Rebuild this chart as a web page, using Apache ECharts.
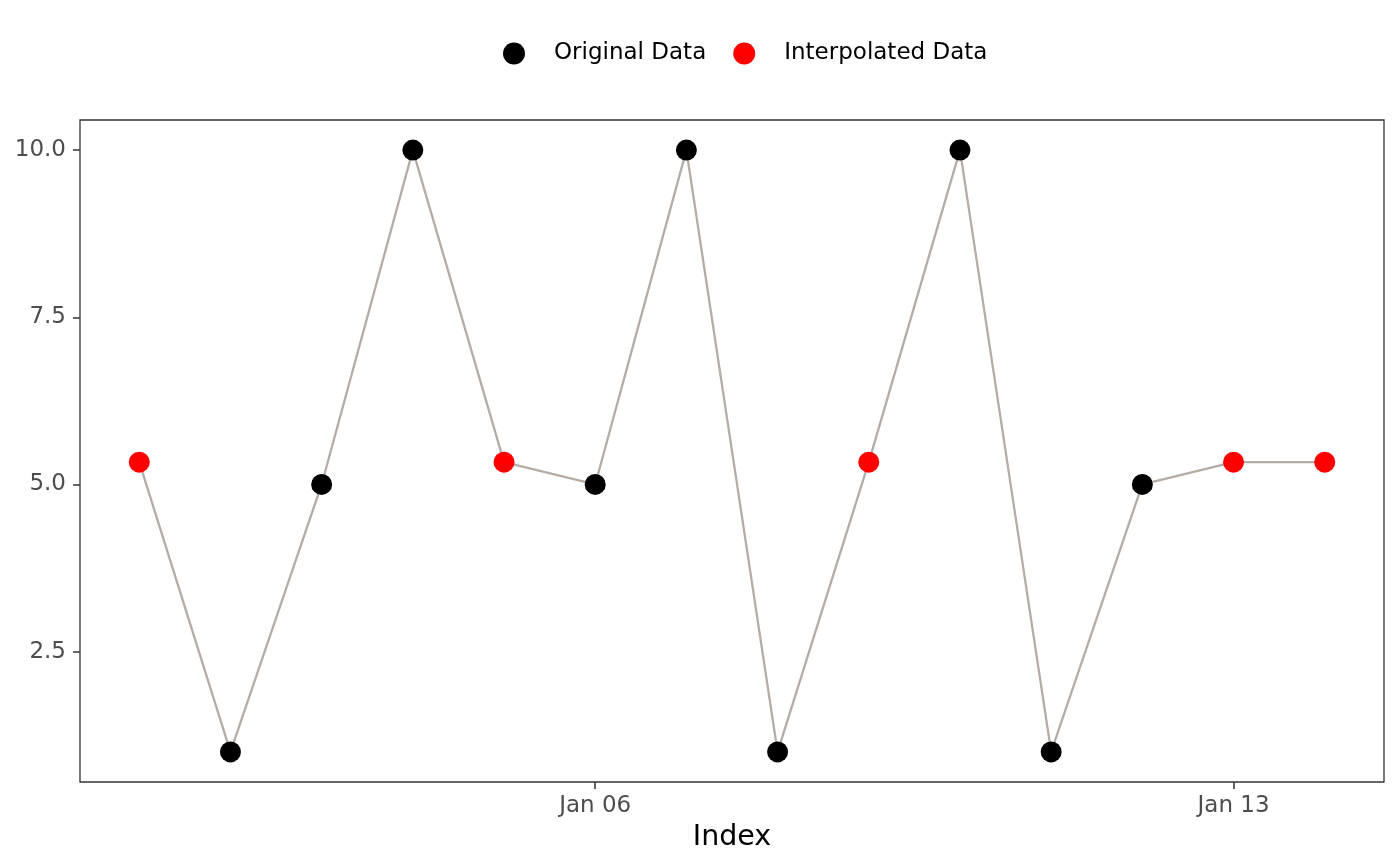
<!DOCTYPE html>
<html>
<head>
<meta charset="utf-8">
<script src="https://cdn.jsdelivr.net/npm/echarts@6/dist/echarts.min.js"></script>
<style>html,body{margin:0;padding:0;background:#fff;}#c{width:1400px;height:866px;}</style>
</head>
<body>
<div id="c"></div>
<script>
var dates = ['2023-01-01','2023-01-02','2023-01-03','2023-01-04','2023-01-05','2023-01-06','2023-01-07',
             '2023-01-08','2023-01-09','2023-01-10','2023-01-11','2023-01-12','2023-01-13','2023-01-14'];
var values = [5.333, 1, 5, 10, 5.333, 5, 10, 1, 5.333, 10, 1, 5, 5.333, 5.333];
var interpolated = [true, false, false, false, true, false, false, false, true, false, false, false, true, true];
var xTickDates = ['2023-01-06', '2023-01-13'];
var xTickLabels = ['Jan 06', 'Jan 13'];
var yTicks = [2.5, 5.0, 7.5, 10.0];

function ts(d){ return Date.parse(d + 'T00:00:00Z'); }
var xs = dates.map(ts);
var linePts = xs.map(function(x, i){ return [x, values[i]]; });
var origPts = [], interpPts = [];
xs.forEach(function(x, i){ (interpolated[i] ? interpPts : origPts).push([x, values[i]]); });
var xTickVals = xTickDates.map(ts);
var xSpan = xs[xs.length-1] - xs[0];
var yMin = Math.min.apply(null, values), yMax = Math.max.apply(null, values);
var ySpan = yMax - yMin;

var chart = echarts.init(document.getElementById('c'));
chart.setOption({
  animation: false,
  backgroundColor: '#fff',
  textStyle: { fontFamily: 'DejaVu Sans' },
  legend: {
    left: 498, top: 37,
    itemWidth: 22, itemHeight: 22, itemGap: 27,
    icon: 'circle',
    textStyle: { fontSize: 23, color: '#000', fontFamily: 'DejaVu Sans', padding: [0,0,0,24] },
    data: ['Original Data', 'Interpolated Data']
  },
  grid: { left: 80, right: 16, top: 120, bottom: 84, show: true, borderColor: '#333', borderWidth: 1.3, backgroundColor: '#fff' },
  xAxis: {
    type: 'value',
    min: xs[0] - 0.05 * xSpan,
    max: xs[xs.length-1] + 0.05 * xSpan,
    name: 'Index', nameLocation: 'middle', nameGap: 41,
    nameTextStyle: { fontSize: 28.5, color: '#000', fontFamily: 'DejaVu Sans' },
    axisLine: { show: false },
    splitLine: { show: false },
    axisTick: { show: true, length: 7, lineStyle: { color: '#333', width: 1.5 }, customValues: xTickVals },
    axisLabel: {
      fontSize: 23, color: '#4d4d4d', margin: 13, customValues: xTickVals,
      formatter: function(v){ var i = xTickVals.indexOf(v); return i >= 0 ? xTickLabels[i] : ''; }
    }
  },
  yAxis: {
    type: 'value',
    min: yMin - 0.05 * ySpan,
    max: yMax + 0.05 * ySpan,
    axisLine: { show: false },
    splitLine: { show: false },
    axisTick: { show: true, length: 7, lineStyle: { color: '#333', width: 1.5 }, customValues: yTicks },
    axisLabel: {
      fontSize: 23, color: '#4d4d4d', margin: 14, customValues: yTicks,
      formatter: function(v){ return v.toFixed(1); }
    }
  },
  series: [
    { type: 'line', data: linePts, showSymbol: false, symbol: 'none', lineStyle: { color: '#b5aca5', width: 2.3 }, z: 1, silent: true },
    { name: 'Original Data', type: 'scatter', data: origPts, symbol: 'circle', symbolSize: 21, itemStyle: { color: '#000', opacity: 1 }, z: 3 },
    { name: 'Interpolated Data', type: 'scatter', data: interpPts, symbol: 'circle', symbolSize: 21, itemStyle: { color: '#ff0000', opacity: 1 }, z: 3 }
  ]
});
</script>
</body>
</html>
